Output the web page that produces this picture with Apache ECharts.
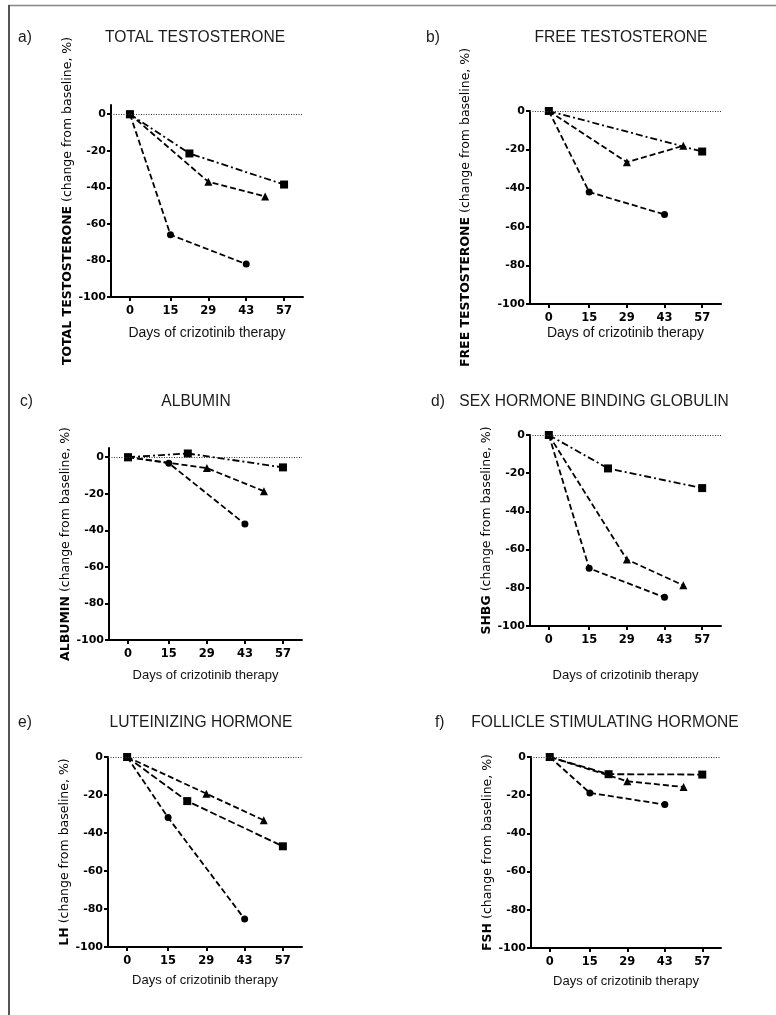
<!DOCTYPE html>
<html>
<head>
<meta charset="utf-8">
<script src="https://cdn.jsdelivr.net/npm/echarts@6/dist/echarts.min.js"></script>
<style>
  html, body { margin: 0; padding: 0; background: #fff; }
  #chart { width: 776px; height: 1015px; }
</style>
</head>
<body>
<div id="chart"></div>
<script>
// x ticks (days) and y ticks (% change)
const dayTicks = [0, 15, 29, 43, 57];
const yTicks = [-100, -80, -60, -40, -20, 0];

// sampling days of each patient (marker)
const circleDays = [0, 15, 43];
const triangleDays = [0, 29, 50];
const squareDays = [0, 22, 57];

const panelLetters = ['a)', 'b)', 'c)', 'd)', 'e)', 'f)'];
const panelTitles = ['TOTAL TESTOSTERONE', 'FREE TESTOSTERONE', 'ALBUMIN',
  'SEX HORMONE BINDING GLOBULIN', 'LUTEINIZING HORMONE', 'FOLLICLE STIMULATING HORMONE'];
const yNames = ['TOTAL TESTOSTERONE', 'FREE TESTOSTERONE', 'ALBUMIN', 'SHBG', 'LH', 'FSH'];
const xName = 'Days of crizotinib therapy';

// % change from baseline, one row per panel (a..f)
const squareValues = [
  [0, -21.5, -38.5],
  [0, null, -21],
  [0, 2, -5.6],
  [0, -17.5, -27.8],
  [0, -23.2, -47],
  [0, -9, -9.2]
];
const triangleValues = [
  [0, -37, -45],
  [0, -26.5, -18],
  [0, -6, -18.6],
  [0, -65.2, -78.7],
  [0, -19.3, -33.3],
  [0, -12.7, -15.7]
];
const circleValues = [
  [0, -66, -82],
  [0, -42, -53.6],
  [0, -3.3, -36.6],
  [0, -69.8, -85],
  [0, -31.9, -85.3],
  [0, -18.8, -24.9]
];

// page layout of each panel
const layout = [
  { left: 111, top: 105, width: 192, height: 192, yMax: 5, nameGap: 37, xGap: 29, xFont: 14, titleX: 195, letterX: 18, headY: 38, sqDash: 'dashdot' },
  { left: 530, top: 111, width: 191, height: 193, yMax: 0, nameGap: 58, xGap: 22, xFont: 14, titleX: 621, letterX: 426, headY: 38, sqDash: 'dashdot' },
  { left: 109, top: 448, width: 193, height: 192, yMax: 5, nameGap: 37, xGap: 29, xFont: 13, titleX: 196, letterX: 20, headY: 402, sqDash: 'dashdot' },
  { left: 530, top: 435, width: 191, height: 191, yMax: 0, nameGap: 35, xGap: 43, xFont: 13, titleX: 594, letterX: 431, headY: 402, sqDash: 'dashdot' },
  { left: 108, top: 757, width: 194, height: 190, yMax: 0, nameGap: 35, xGap: 27, xFont: 13, titleX: 201, letterX: 18, headY: 723, sqDash: 'dash' },
  { left: 531, top: 757, width: 190, height: 191, yMax: 0, nameGap: 36, xGap: 27, xFont: 13, titleX: 605, letterX: 435, headY: 723, sqDash: 'dash' }
];

const DASH = [6, 3];
const DASHDOT = [7, 3, 2, 3];
const tickFont = 'DejaVu Sans';
const textFont = 'Liberation Sans';

function pairs(days, values) {
  const out = [];
  for (let i = 0; i < days.length; i++) {
    if (values[i] !== null) out.push([days[i], values[i]]);
  }
  return out;
}

const grids = [], xAxes = [], yAxes = [], series = [], graphics = [];

layout.forEach(function(p, i) {
  grids.push({ left: p.left, top: p.top, width: p.width, height: p.height, containLabel: false });
  xAxes.push({
    type: 'value', gridIndex: i, min: -7, max: 64,
    name: xName, nameLocation: 'middle', nameGap: p.xGap,
    nameTextStyle: { fontFamily: textFont, fontSize: p.xFont, color: '#111' },
    axisLine: { onZero: false, lineStyle: { color: '#000', width: 2 } },
    axisTick: { customValues: dayTicks, length: 4, lineStyle: { color: '#000', width: 2 } },
    axisLabel: { customValues: dayTicks, margin: 8, fontFamily: tickFont, fontWeight: 'bold', fontSize: 11.5, color: '#000' },
    splitLine: { show: false }
  });
  yAxes.push({
    type: 'value', gridIndex: i, min: -100, max: p.yMax,
    name: '{b|' + yNames[i] + '} (change from baseline, %)',
    nameLocation: 'middle', nameRotate: 90, nameGap: p.nameGap,
    nameTextStyle: {
      fontFamily: tickFont, fontSize: 12.5, color: '#000',
      rich: { b: { fontFamily: tickFont, fontSize: 12.5, fontWeight: 'bold', color: '#000' } }
    },
    axisLine: { onZero: false, lineStyle: { color: '#000', width: 2 } },
    axisTick: { customValues: yTicks, length: 4, lineStyle: { color: '#000', width: 2 } },
    axisLabel: { customValues: yTicks, margin: 5, fontFamily: tickFont, fontWeight: 'bold', fontSize: 11, color: '#000' },
    splitLine: { show: false }
  });

  const common = { type: 'line', xAxisIndex: i, yAxisIndex: i, color: '#000', z: 3 };
  series.push(Object.assign({}, common, {
    name: 'square',
    data: pairs(squareDays, squareValues[i]),
    symbol: 'rect', symbolSize: 8,
    lineStyle: { color: '#000', width: 1.8, type: p.sqDash === 'dashdot' ? DASHDOT : [7, 3] },
    itemStyle: { color: '#000' },
    markLine: {
      silent: true, symbol: 'none', label: { show: false },
      lineStyle: { color: '#333', width: 1, type: [1, 1.5] },
      data: [{ yAxis: 0 }]
    }
  }));
  series.push(Object.assign({}, common, {
    name: 'triangle',
    data: pairs(triangleDays, triangleValues[i]),
    symbol: 'triangle', symbolSize: 8,
    lineStyle: { color: '#000', width: 1.8, type: DASH },
    itemStyle: { color: '#000' }
  }));
  series.push(Object.assign({}, common, {
    name: 'circle',
    data: pairs(circleDays, circleValues[i]),
    symbol: 'circle', symbolSize: 7,
    lineStyle: { color: '#000', width: 1.8, type: DASH },
    itemStyle: { color: '#000' }
  }));

  graphics.push({
    type: 'text', x: p.letterX, y: p.headY,
    style: { text: panelLetters[i], fontFamily: textFont, fontSize: 15.6, fill: '#1c1c1c', textAlign: 'left', textVerticalAlign: 'middle' }
  });
  graphics.push({
    type: 'text', x: p.titleX, y: p.headY,
    style: { text: panelTitles[i], fontFamily: textFont, fontSize: 15.6, fill: '#1c1c1c', textAlign: 'center', textVerticalAlign: 'middle' }
  });
});

// frame around the figure
graphics.push({ type: 'line', shape: { x1: 8, y1: 5.5, x2: 776, y2: 5.5 }, style: { stroke: '#888', lineWidth: 1.3 } });
graphics.push({ type: 'line', shape: { x1: 9, y1: 5, x2: 9, y2: 1015 }, style: { stroke: '#555', lineWidth: 2 } });

const chart = echarts.init(document.getElementById('chart'));
chart.setOption({
  animation: false,
  backgroundColor: '#fff',
  grid: grids,
  xAxis: xAxes,
  yAxis: yAxes,
  series: series,
  graphic: graphics
});
</script>
</body>
</html>
